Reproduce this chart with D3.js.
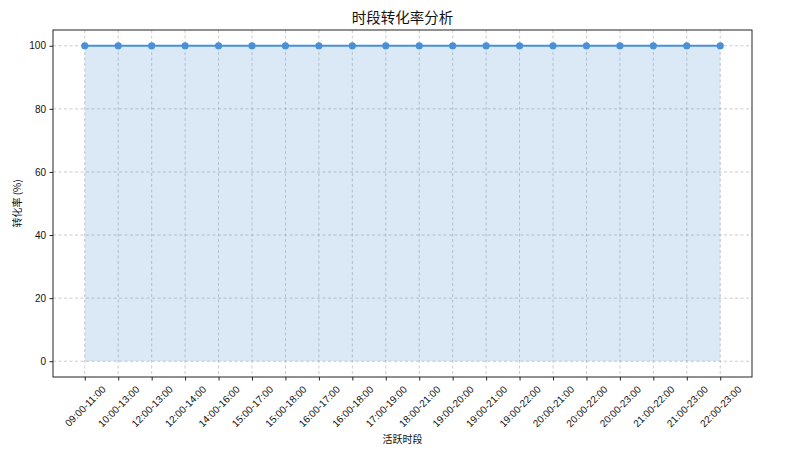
<!DOCTYPE html>
<html><head><meta charset="utf-8">
<script src="https://cdn.jsdelivr.net/npm/d3@7"></script>
<style>body{margin:0;background:#fff}svg{display:block}</style>
</head><body>
<svg id="c" width="787" height="457"></svg>
<script>
const categories = ["09:00-11:00","10:00-13:00","12:00-13:00","12:00-14:00","14:00-16:00","15:00-17:00","15:00-18:00","16:00-17:00","16:00-18:00","17:00-19:00","18:00-21:00","19:00-20:00","19:00-21:00","19:00-22:00","20:00-21:00","20:00-22:00","20:00-23:00","21:00-22:00","21:00-23:00","22:00-23:00"];
const values = [100,100,100,100,100,100,100,100,100,100,100,100,100,100,100,100,100,100,100,100];
const yTicks = [0,20,40,60,80,100];
const title = "时段转化率分析", xTitle = "活跃时段", yTitle = "转化率 (%)";

const svg = d3.select("#c");
const L = 53, R = 752, T = 30, B = 377;
const color = "#4a90d9";
const x = d3.scaleLinear().domain([-0.95, categories.length - 1 + 0.95]).range([L, R]);
const y = d3.scaleLinear().domain([-5, 105]).range([B, T]);
const font = "'Liberation Sans', Arial, 'Noto Sans CJK SC', sans-serif";

// grid
const g = svg.append("g");
g.selectAll(".vg").data(categories).join("line")
  .attr("x1", (d,i)=>x(i)).attr("x2",(d,i)=>x(i)).attr("y1",T).attr("y2",B)
  .attr("stroke","#b0b0b0").attr("stroke-width",0.8).attr("stroke-dasharray","3,2.5").attr("opacity",0.8);
g.selectAll(".hg").data(yTicks).join("line")
  .attr("x1",L).attr("x2",R).attr("y1",d=>y(d)).attr("y2",d=>y(d))
  .attr("stroke","#b0b0b0").attr("stroke-width",0.8).attr("stroke-dasharray","3,2.5").attr("opacity",0.8);

// area
const area = d3.area().x((d,i)=>x(i)).y0(y(0)).y1(d=>y(d));
svg.append("path").datum(values).attr("d", area).attr("fill", color).attr("fill-opacity", 0.2);
// line
const line = d3.line().x((d,i)=>x(i)).y(d=>y(d));
svg.append("path").datum(values).attr("d", line).attr("fill","none").attr("stroke",color).attr("stroke-width",2);
svg.selectAll(".pt").data(values).join("circle")
  .attr("cx",(d,i)=>x(i)).attr("cy",d=>y(d)).attr("r",3.6).attr("fill",color);

// frame
svg.append("rect").attr("x",L).attr("y",T).attr("width",R-L).attr("height",B-T)
  .attr("fill","none").attr("stroke","#222").attr("stroke-width",1);

// y axis
const ya = svg.append("g").attr("transform",`translate(${L},0)`)
  .call(d3.axisLeft(y).tickValues(yTicks).tickSize(3.5).tickPadding(3.5));
ya.select(".domain").remove();
ya.selectAll("text").attr("font-family",font).attr("font-size",10).attr("fill","#111");
ya.selectAll("line").attr("stroke","#222");

// x axis
const xa = svg.append("g").attr("transform",`translate(0,${B})`)
  .call(d3.axisBottom(x).tickValues(d3.range(categories.length)).tickFormat(i=>categories[i]).tickSize(3.5).tickPadding(3.5));
xa.select(".domain").remove();
xa.selectAll("line").attr("stroke","#222");
xa.selectAll("text").attr("font-family",font).attr("font-size",10).attr("fill","#111")
  .attr("text-anchor","middle").attr("dy",null).attr("y",null)
  .attr("transform",function(){
    const w = this.getComputedTextLength();
    const off = (w*Math.SQRT1_2 + 10*Math.SQRT1_2)/2;
    return `translate(0,${7+off}) rotate(-45)`;
  })
  .attr("dominant-baseline","central");

// titles
svg.append("text").attr("x",(L+R)/2).attr("y",23).attr("text-anchor","middle")
  .attr("font-family","'Noto Sans CJK SC', sans-serif").attr("font-size",14.5).attr("fill","#111").text(title);
svg.append("text").attr("x",(L+R)/2).attr("y",443).attr("text-anchor","middle")
  .attr("font-family","'Noto Sans CJK SC', sans-serif").attr("font-size",10).attr("fill","#111").text(xTitle);
svg.append("text").attr("transform",`translate(21,${(T+B)/2}) rotate(-90)`).attr("text-anchor","middle")
  .attr("font-family","'Noto Sans CJK SC', sans-serif").attr("font-size",10).attr("fill","#111").text(yTitle);
</script>
</body></html>
